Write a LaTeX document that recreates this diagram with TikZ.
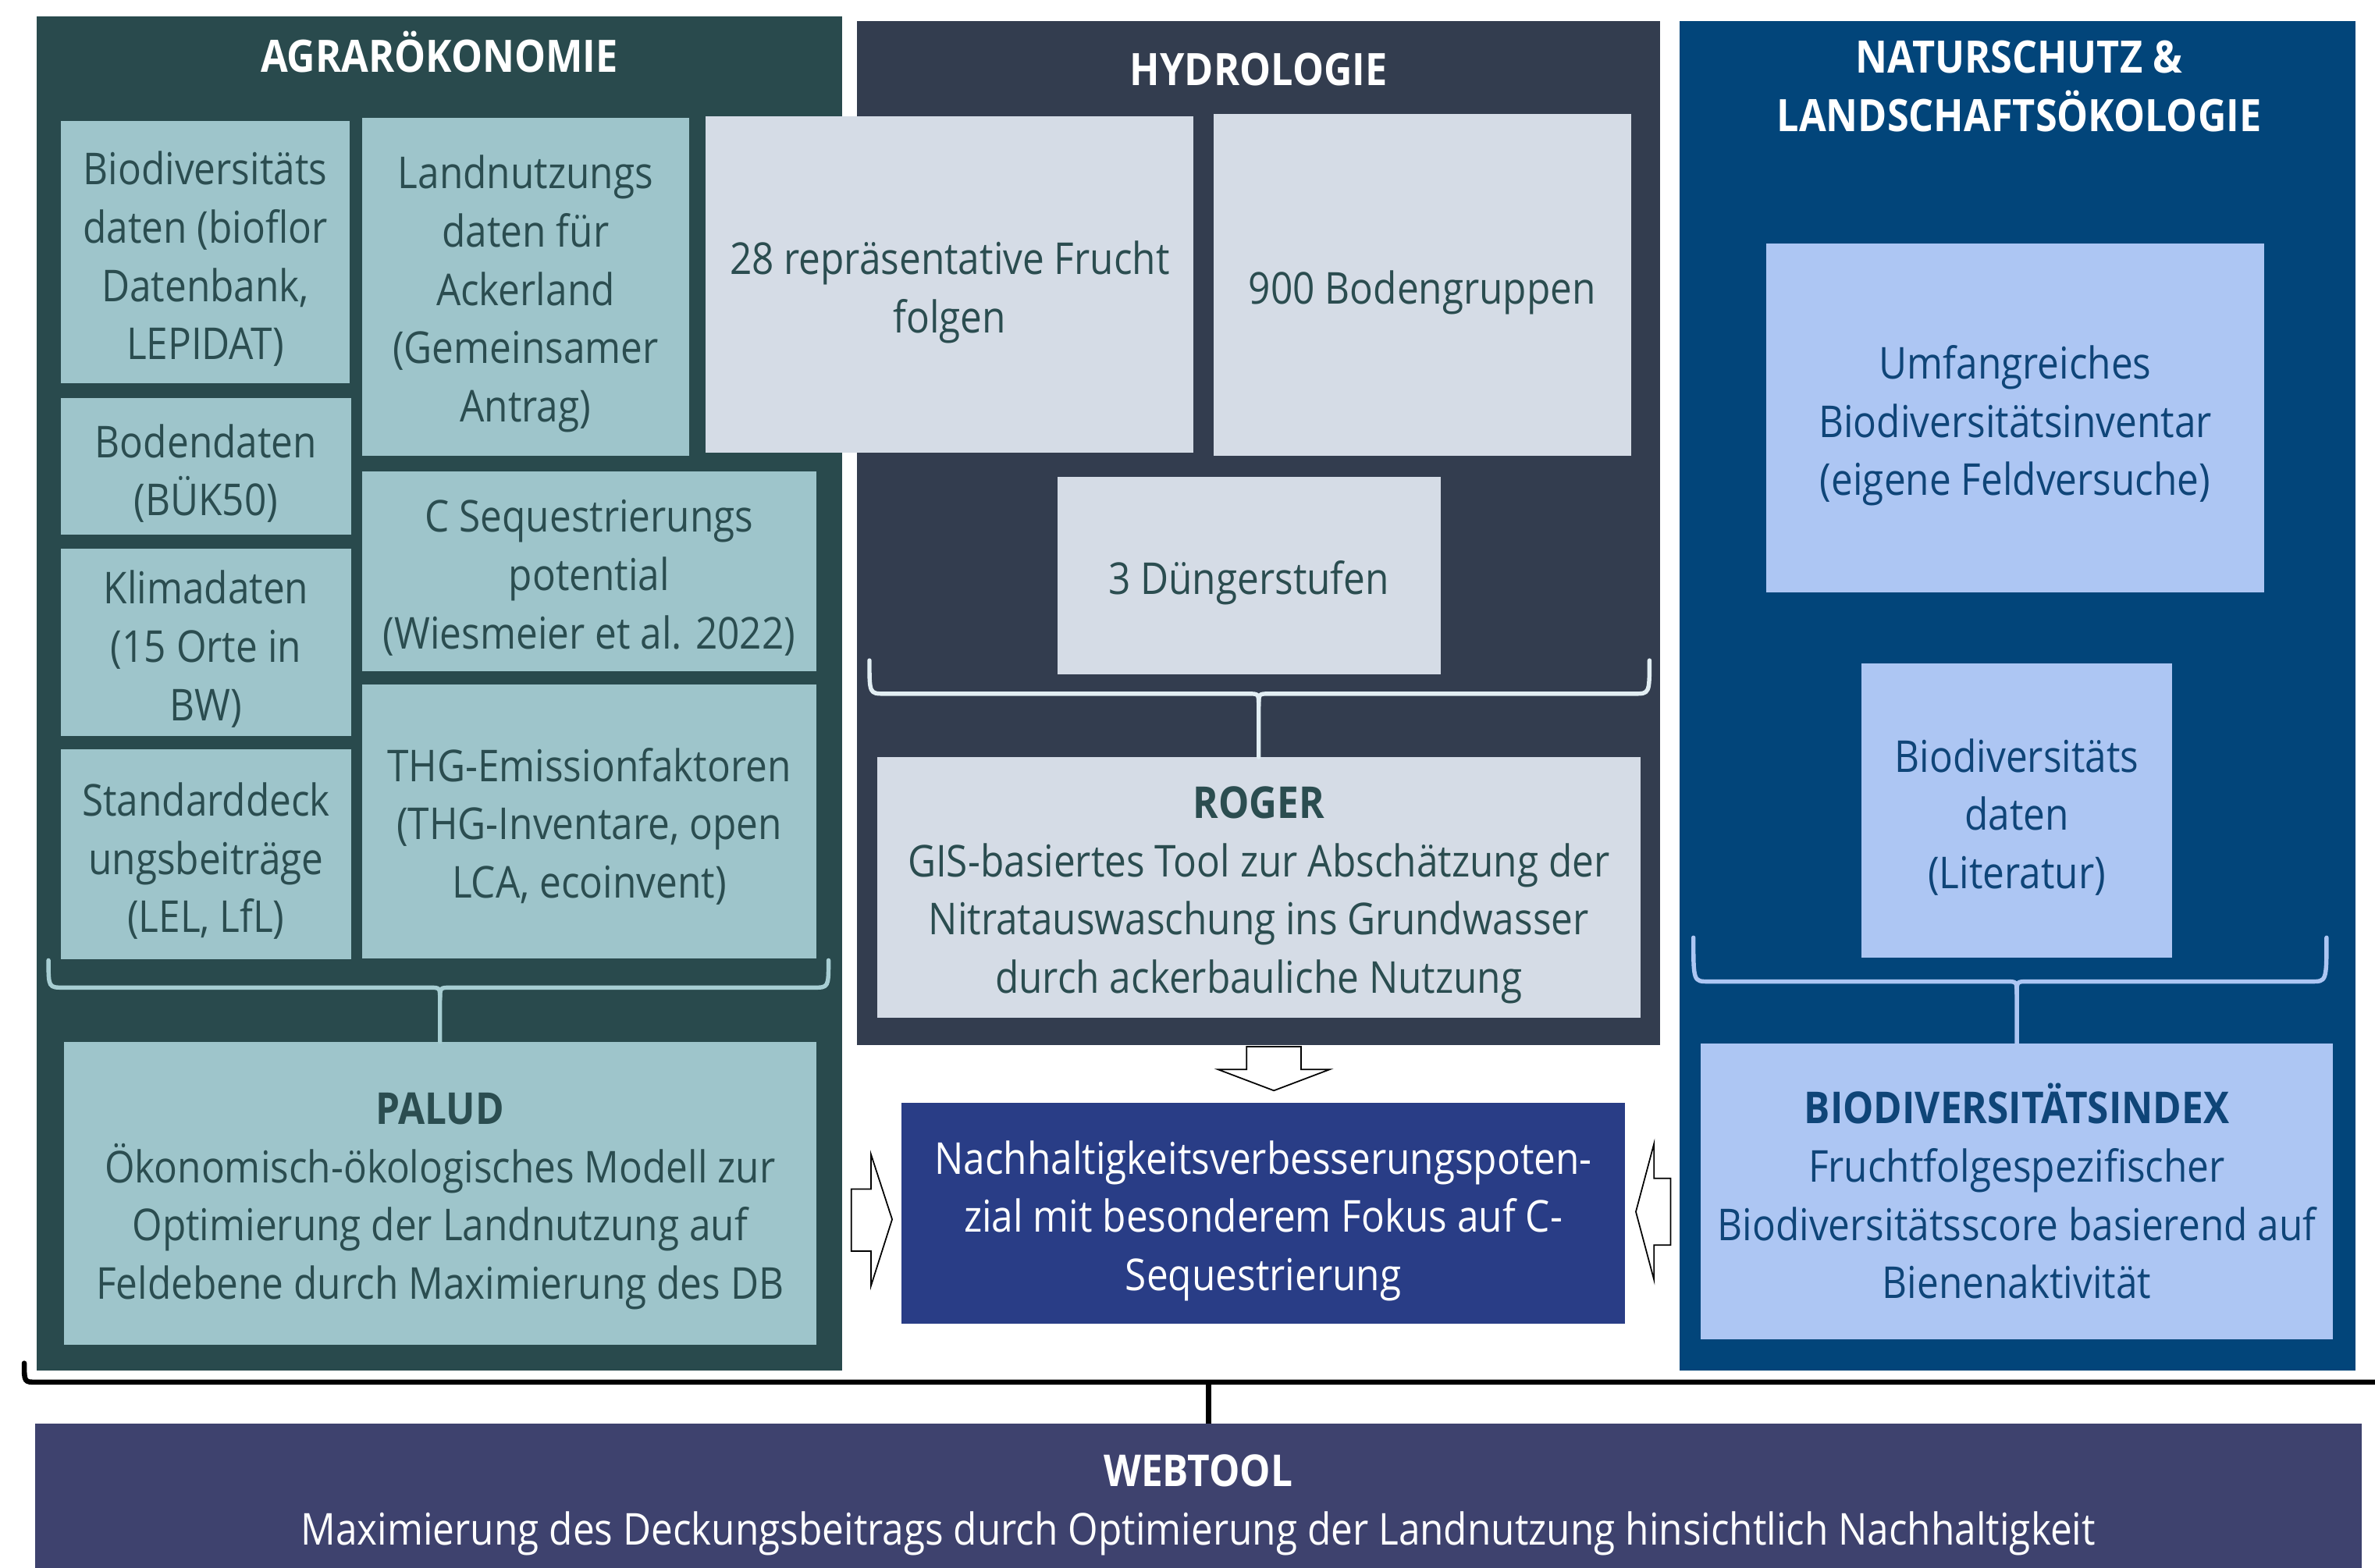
\documentclass[tikz,border=0pt]{standalone}
\usepackage{fontspec}
\setmainfont{Open Sans}[FakeStretch=0.88]
\usetikzlibrary{calc}

\definecolor{agrarbg}{HTML}{294A4D}
\definecolor{agrarbox}{HTML}{9EC5CB}
\definecolor{agrartext}{HTML}{2B4D50}
\definecolor{agrarbrace}{HTML}{A7CED3}
\definecolor{hydrobg}{HTML}{333D4F}
\definecolor{hydrobox}{HTML}{D5DCE6}
\definecolor{hydrobrace}{HTML}{E2EEF3}
\definecolor{naturbg}{HTML}{02457A}
\definecolor{naturbox}{HTML}{ADC6F3}
\definecolor{naturtext}{HTML}{0F4578}
\definecolor{centerblue}{HTML}{293D86}
\definecolor{webbg}{HTML}{3E426E}

% horizontal curly bracket: style, left x, right x, end y, bar y, node below the tip
\newcommand\drawbrace[6]{%
  \coordinate (bt) at (#6.north |- 0,#5);
  \draw[#1] (#2,#4) .. controls (#2,#5) .. (#2+10,#5) -- ([xshift=-7pt]bt)
        .. controls (bt) .. ([yshift=-8pt]bt) -- (#6.north);
  \draw[#1] ([yshift=-8pt]bt) .. controls (bt) .. ([xshift=7pt]bt) -- (#3-10,#5)
        .. controls (#3,#5) .. (#3,#4);
}

% filled box plus its text, the text lowered a little inside the box
% [drop] {style} {name} {centre} {width} {height} {text}
\newcommand\labelledbox[7][4.5]{%
  \node[#2, minimum width=#5, minimum height=#6] (#3) at (#4) {};
  \node[#2, fill=none] (#3-text) at ([yshift=-#1pt]#3.center) {#7};
}

\begin{document}
\begin{tikzpicture}[x=1pt,y=-1pt,
  panel/.style={rectangle, draw=none, inner sep=0pt},
  title/.style={text=white, font=\fontsize{29.5}{38.5}\selectfont\bfseries, align=center, inner sep=0pt},
  box/.style={rectangle, draw=none, inner sep=0pt, align=center,
              font=\fontsize{29}{38.5}\selectfont},
  agbox/.style={box, fill=agrarbox, text=agrartext},
  hybox/.style={box, fill=hydrobox, text=agrartext},
  nabox/.style={box, fill=naturbox, text=naturtext},
  resultbox/.style={box, fill=centerblue, text=white},
  webbox/.style={box, fill=webbg, text=white},
  bracket/.style={line width=2.8pt, line cap=round, line join=round},
  blockarrow/.style={draw=black, fill=white, line width=0.9pt, line join=miter}
]
\useasboundingbox (0,0) rectangle (1568,1035);
\clip (0,0) rectangle (1568,1035);
\fill[white] (0,0) rectangle (1568,1035);

% ---------- group panels ----------
\node[panel, fill=agrarbg, minimum width=532, minimum height=894] (agrar) at (290,458) {};
\node[panel, fill=hydrobg, minimum width=530, minimum height=676] (hydro) at (831,352) {};
\node[panel, fill=naturbg, minimum width=446, minimum height=891] (natur) at (1332,459.5) {};

\node[title] (agrartitle) at (290,34.5) {AGRARÖKONOMIE};
\node[title] (hydrotitle) at (831,46) {HYDROLOGIE};
\node[title] (naturtitle) at (1333,57) {NATURSCHUTZ \&\\LANDSCHAFTSÖKOLOGIE};

% ---------- Agrarökonomie ----------
\labelledbox{agbox}{biodat}{135.5,166.5}{191}{173}
  {Biodiversitäts\\daten (bioflor\\Datenbank,\\LEPIDAT)}
\labelledbox{agbox}{landnutz}{347,189.5}{216}{223}
  {Landnutzungs\\daten für\\Ackerland\\(Gemeinsamer\\Antrag)}
\labelledbox{agbox}{boden}{136,308}{192}{90}
  {Bodendaten\\(BÜK50)}
\labelledbox{agbox}{cseq}{389,377}{300}{132}
  {C Sequestrierungs\\potential\\(Wiesmeier et al. 2022)}
\labelledbox{agbox}{klima}{136,424}{192}{124}
  {Klimadaten\\(15 Orte in\\BW)}
\labelledbox{agbox}{stddb}{136,564}{192}{139}
  {Standarddeck\\ungsbeiträge\\(LEL, LfL)}
\labelledbox[3]{agbox}{thg}{389,542.5}{300}{181}
  {THG-Emissionfaktoren\\(THG-Inventare, open\\LCA, ecoinvent)}
\labelledbox[5]{agbox}{palud}{290.5,788}{497}{200}
  {\textbf{PALUD}\\Ökonomisch-ökologisches Modell zur\\Optimierung der Landnutzung auf\\Feldebene durch Maximierung des DB}

% ---------- Hydrologie ----------
\labelledbox[5]{hybox}{frucht}{627,188}{322}{222}
  {28 repräsentative Frucht\\folgen}
\labelledbox[5]{hybox}{bodengr}{939,188}{276}{226}
  {900 Bodengruppen}
\labelledbox[5]{hybox}{duenger}{824.5,380}{253}{130}
  {3 Düngerstufen}
\labelledbox[5]{hybox}{roger}{831,586}{504}{172}
  {\textbf{ROGER}\\GIS-basiertes Tool zur Abschätzung der\\Nitratauswaschung ins Grundwasser\\durch ackerbauliche Nutzung}

% ---------- Naturschutz & Landschaftsökologie ----------
\labelledbox[5]{nabox}{inventar}{1330.5,276}{329}{230}
  {Umfangreiches\\Biodiversitätsinventar\\(eigene Feldversuche)}
\labelledbox{nabox}{biolit}{1331.5,535}{205}{194}
  {Biodiversitäts\\daten\\(Literatur)}
\labelledbox[0]{nabox}{bioindex}{1331.5,786.5}{417}{195}
  {\textbf{BIODIVERSITÄTSINDEX}\\Fruchtfolgespezifischer\\Biodiversitätsscore basierend auf\\Bienenaktivität}

% ---------- brackets inside the panels ----------
\drawbrace{bracket, draw=agrarbrace}{32}{547}{634}{652}{palud}
\drawbrace{bracket, draw=hydrobrace}{574}{1089}{436}{458}{roger}
\drawbrace{bracket, draw=naturbox}{1118}{1536}{619}{648}{bioindex}

% ---------- result box ----------
\labelledbox[5]{resultbox}{potential}{834,801}{478}{146}
  {Nachhaltigkeitsverbesserungspoten-\\zial mit besonderem Fokus auf C-\\Sequestrierung}

% ---------- block arrows towards the result ----------
\draw[blockarrow] (823,691) -- (859,691) -- (859,706) -- (878,706) -- (841,720)
  -- (804,706) -- (823,706) -- cycle;
\draw[blockarrow] (562,785) -- (575,785) -- (575,762) -- (589,805) -- (575,849)
  -- (575,826) -- (562,826) -- cycle;
\draw[blockarrow] (1103,778) -- (1092,778) -- (1092,755) -- (1080,800) -- (1092,845)
  -- (1092,822) -- (1103,822) -- cycle;

% ---------- web tool ----------
\labelledbox{webbox}{webtool}{791,989}{1536}{98}
  {\textbf{WEBTOOL}\\Maximierung des Deckungsbeitrags durch Optimierung der Landnutzung hinsichtlich Nachhaltigkeit}

% ---------- bracket over the web tool ----------
\coordinate (wtip) at (798,912.5);
\draw[line width=3.4pt, line cap=round, line join=round, black]
  (16,900) .. controls (16,912.5) .. (24,912.5) -- (1600,912.5);
\draw[line width=3.4pt, black] (wtip) -- (wtip |- webtool.north);
\end{tikzpicture}
\end{document}
